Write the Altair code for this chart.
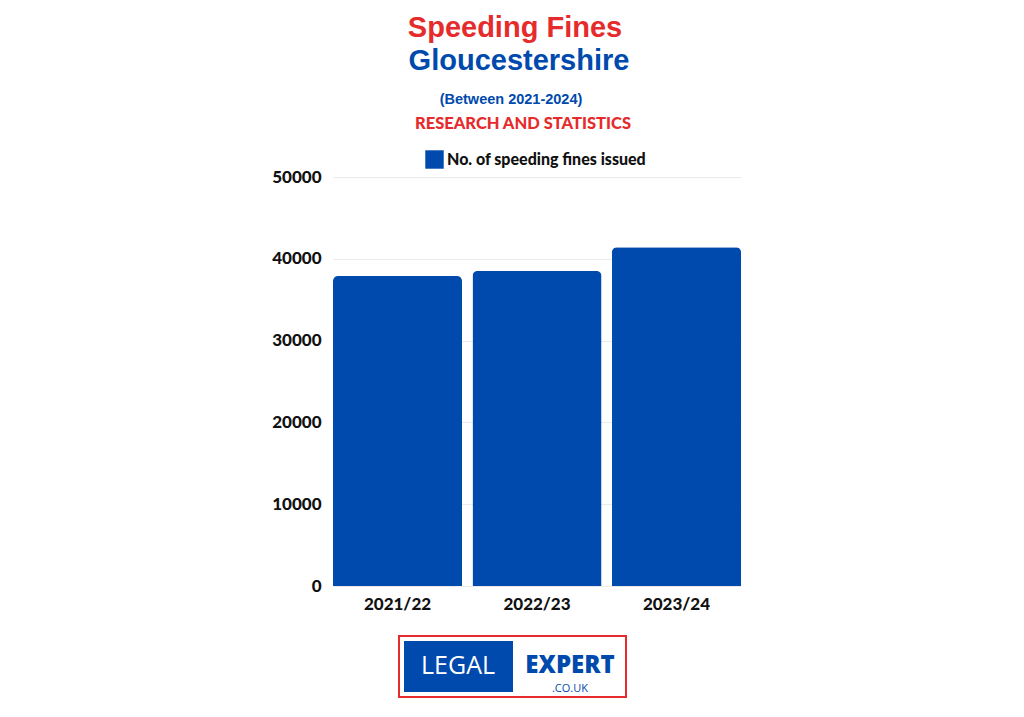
import altair as alt
import pandas as pd

years = ["2021/22", "2022/23", "2023/24"]
fines = [37900, 38500, 41400]
series = ["No. of speeding fines issued"] * 3

df = pd.DataFrame({"year": years, "fines": fines, "series": series})

BLUE = "#004aad"
RED = "#e52b2b"
one = pd.DataFrame({"k": [0]})

OX, OY = 333, 177  # plot origin in page

def txt(text, px, py, size, color, font, weight="bold", align="center", baseline="alphabetic"):
    return alt.Chart(one).mark_text(
        text=text, fontSize=size, color=color, font=font, fontWeight=weight,
        align=align, baseline=baseline
    ).encode(x=alt.value(px - OX), y=alt.value(py - OY))

bars = alt.Chart(df).mark_bar(
    cornerRadiusTopLeft=5, cornerRadiusTopRight=5
).encode(
    x=alt.X("year:N", title=None, sort=years,
            scale=alt.Scale(paddingInner=0.075, paddingOuter=0),
            axis=alt.Axis(labelAngle=0, labelFont="Lato", labelFontWeight=900,
                          labelFontSize=17, labelColor="#111", labelPadding=10,
                          domain=False, ticks=False, grid=False)),
    y=alt.Y("fines:Q", title=None,
            scale=alt.Scale(domain=[0, 50000]),
            axis=alt.Axis(values=[0, 10000, 20000, 30000, 40000, 50000], format="d",
                          labelFont="Lato", labelFontWeight=900, labelFontSize=17,
                          labelColor="#111", labelPadding=12, domain=False, ticks=False,
                          gridColor="#ebebeb", gridWidth=1)),
    color=alt.Color("series:N", scale=alt.Scale(range=[BLUE]),
                    legend=alt.Legend(title=None, orient="none", legendX=425 - OX,
                                      legendY=150 - OY, symbolType="square",
                                      symbolSize=340, symbolStrokeWidth=0,
                                      labelFont="Lato", labelFontWeight=900,
                                      labelFontSize=16, labelColor="#111",
                                      labelOffset=3, labelLimit=0, padding=0)),
)

layers = [
    bars,
    txt("Speeding Fines", 515, 37, 29, RED, "Liberation Sans"),
    txt("Gloucestershire", 519, 70, 29, BLUE, "Liberation Sans"),
    txt("(Between 2021-2024)", 511, 104, 14.5, BLUE, "Liberation Sans"),
    txt("RESEARCH AND STATISTICS", 523, 129, 16.5, RED, "Lato", weight=900),
    # logo
    alt.Chart(one).mark_rect(fill="white", stroke=RED, strokeWidth=2).encode(
        x=alt.value(399 - OX), x2=alt.value(626 - OX),
        y=alt.value(636 - OY), y2=alt.value(697 - OY)),
    alt.Chart(one).mark_rect(fill=BLUE).encode(
        x=alt.value(404 - OX), x2=alt.value(513 - OX),
        y=alt.value(641 - OY), y2=alt.value(692 - OY)),
    txt("LEGAL", 458, 674, 25, "white", "Open Sans", weight="normal"),
    txt("EXPERT", 570, 673, 24, BLUE, "Open Sans", weight=800),
    txt(".CO.UK", 570, 692, 11, BLUE, "Open Sans", weight="normal"),
]

chart = alt.layer(*layers).properties(
    width=408, height=409,
    background="white",
    autosize=alt.AutoSizeParams(type="none"),
    padding={"left": OX, "top": OY, "right": 1024 - 741, "bottom": 717 - 586},
).configure_view(stroke=None, strokeWidth=0)

chart.save("out.html", embed_options={"renderer": "svg", "actions": False})
